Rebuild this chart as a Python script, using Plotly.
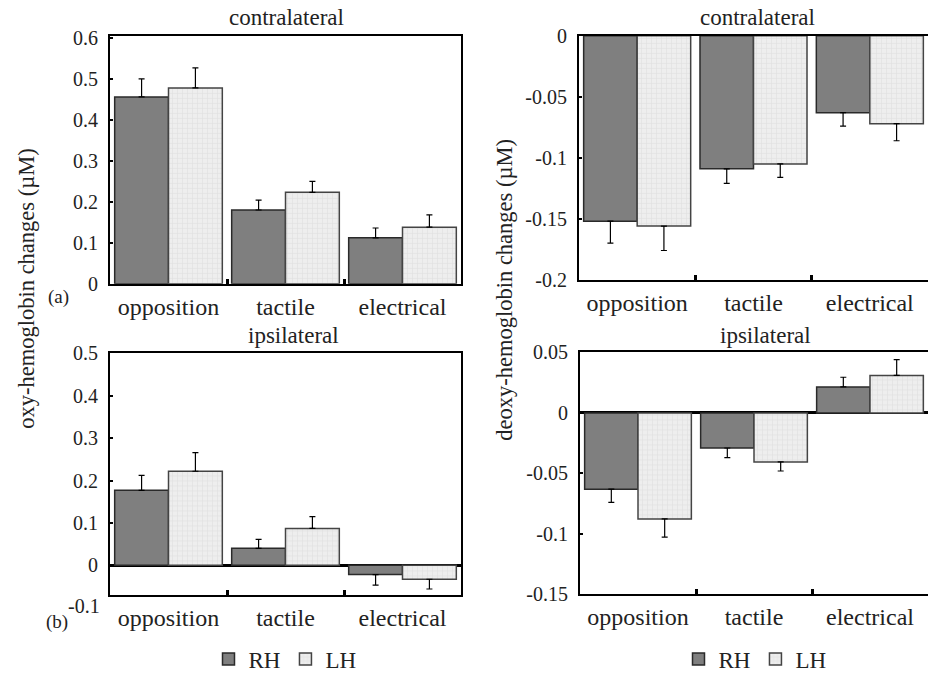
import plotly.graph_objects as go

categories = ["opposition", "tactile", "electrical"]

oxy_contra_RH = [0.456, 0.180, 0.112]
oxy_contra_RH_err = [0.044, 0.024, 0.024]
oxy_contra_LH = [0.478, 0.223, 0.138]
oxy_contra_LH_err = [0.049, 0.027, 0.030]

deoxy_contra_RH = [-0.152, -0.109, -0.063]
deoxy_contra_RH_err = [0.018, 0.012, 0.011]
deoxy_contra_LH = [-0.156, -0.105, -0.072]
deoxy_contra_LH_err = [0.020, 0.011, 0.014]

oxy_ipsi_RH = [0.177, 0.040, -0.022]
oxy_ipsi_RH_err = [0.035, 0.021, 0.025]
oxy_ipsi_LH = [0.222, 0.087, -0.033]
oxy_ipsi_LH_err = [0.044, 0.028, 0.023]

deoxy_ipsi_RH = [-0.063, -0.029, 0.0215]
deoxy_ipsi_RH_err = [0.011, 0.008, 0.008]
deoxy_ipsi_LH = [-0.0876, -0.0405, 0.031]
deoxy_ipsi_LH_err = [0.015, 0.0075, 0.013]

oxy_contra_ticks = [0, 0.1, 0.2, 0.3, 0.4, 0.5, 0.6]
deoxy_contra_ticks = [0, -0.05, -0.1, -0.15, -0.2]
oxy_ipsi_ticks = [0, 0.1, 0.2, 0.3, 0.4, 0.5]
deoxy_ipsi_ticks = [0.05, 0, -0.05, -0.1, -0.15]

FONT = "Liberation Serif, Times New Roman, serif"
RH_COLOR = "#7f7f7f"
LH_COLOR = "#eeeeee"


def errs(vals, err):
    plus = [e if v >= 0 else 0 for v, e in zip(vals, err)]
    minus = [e if v < 0 else 0 for v, e in zip(vals, err)]
    return dict(type="data", symmetric=False, array=plus, arrayminus=minus,
                color="black", thickness=1.2, width=3)


def labels(vals):
    return [f"{v:g}" for v in vals]


fig = go.Figure()

panels = [
    ("x", "y", oxy_contra_RH, oxy_contra_RH_err, oxy_contra_LH, oxy_contra_LH_err, "legend", True),
    ("x2", "y2", deoxy_contra_RH, deoxy_contra_RH_err, deoxy_contra_LH, deoxy_contra_LH_err, "legend2", True),
    ("x3", "y3", oxy_ipsi_RH, oxy_ipsi_RH_err, oxy_ipsi_LH, oxy_ipsi_LH_err, "legend", False),
    ("x4", "y4", deoxy_ipsi_RH, deoxy_ipsi_RH_err, deoxy_ipsi_LH, deoxy_ipsi_LH_err, "legend2", False),
]

for xa, ya, rh, rhe, lh, lhe, leg, show in panels:
    fig.add_trace(go.Bar(
        x=categories, y=rh, name="RH", xaxis=xa, yaxis=ya,
        marker=dict(color=RH_COLOR, line=dict(color="#2a2a2a", width=1.5)),
        error_y=errs(rh, rhe), legend=leg, showlegend=show, offsetgroup="RH"))
    fig.add_trace(go.Bar(
        x=categories, y=lh, name="LH", xaxis=xa, yaxis=ya,
        marker=dict(color=LH_COLOR, line=dict(color="#444444", width=1.5),
                    pattern=dict(shape="+", fgcolor="#d2d2d2", size=5,
                                 solidity=0.25, fillmode="overlay")),
        error_y=errs(lh, lhe), legend=leg, showlegend=show, offsetgroup="LH"))

W, H = 928, 681


def xdom(a, b):
    return [a / W, min(b / W, 1.0)]


def ydom(top, bottom):
    return [(H - bottom) / H, (H - top) / H]


xcommon = dict(type="category", showline=True, linecolor="black", linewidth=2,
               mirror=True, ticks="inside", tickson="boundaries", ticklen=5,
               tickwidth=3, tickcolor="black", showgrid=False, zeroline=False,
               automargin=False,
               tickfont=dict(family=FONT, size=24, color="#222"), fixedrange=True)
ycommon = dict(showline=True, linecolor="black", linewidth=2, ticks="inside",
               ticklen=3, tickwidth=2, tickcolor="black", showgrid=False,
               automargin=False,
               tickfont=dict(family=FONT, size=20, color="#222"),
               ticklabelstandoff=6)

fig.update_layout(
    width=W, height=H,
    margin=dict(l=0, r=0, t=0, b=0, pad=0),
    paper_bgcolor="white", plot_bgcolor="white",
    barmode="group", bargap=0.08, bargroupgap=0,
    font=dict(family=FONT, color="#222"),
    xaxis=dict(xcommon, domain=xdom(110, 461), anchor="y"),
    yaxis=dict(ycommon, domain=ydom(36, 285), anchor="x", range=[0, 0.605],
               tickvals=oxy_contra_ticks, ticktext=labels(oxy_contra_ticks),
               mirror=True, zeroline=False),
    xaxis2=dict(xcommon, domain=xdom(579, 929), anchor="y2"),
    yaxis2=dict(ycommon, domain=ydom(36, 281), anchor="x2", range=[-0.2, 0],
                tickvals=deoxy_contra_ticks, ticktext=labels(deoxy_contra_ticks),
                mirror=False, zeroline=False),
    xaxis3=dict(xcommon, domain=xdom(110, 461), anchor="y3"),
    yaxis3=dict(ycommon, domain=ydom(355, 598), anchor="x3", range=[-0.071, 0.5],
                tickvals=oxy_ipsi_ticks, ticktext=labels(oxy_ipsi_ticks),
                mirror=True, zeroline=True, zerolinecolor="black", zerolinewidth=3),
    xaxis4=dict(xcommon, domain=xdom(580, 929), anchor="y4"),
    yaxis4=dict(ycommon, domain=ydom(354, 597), anchor="x4", range=[-0.15, 0.05],
                tickvals=deoxy_ipsi_ticks, ticktext=labels(deoxy_ipsi_ticks),
                mirror=False, zeroline=True, zerolinecolor="black", zerolinewidth=3),
    legend=dict(orientation="h", x=285 / W, y=(H - 662) / H, xanchor="center",
                yanchor="middle", font=dict(family=FONT, size=23, color="#222"),
                itemwidth=30, tracegroupgap=0, bgcolor="rgba(0,0,0,0)"),
    legend2=dict(orientation="h", x=755 / W, y=(H - 662) / H, xanchor="center",
                 yanchor="middle", font=dict(family=FONT, size=23, color="#222"),
                 itemwidth=30, tracegroupgap=0, bgcolor="rgba(0,0,0,0)"),
)

annotations = [
    dict(text="contralateral", x=286 / W, y=(H - 18) / H, size=23),
    dict(text="contralateral", x=757 / W, y=(H - 18) / H, size=23),
    dict(text="ipsilateral", x=293 / W, y=(H - 337) / H, size=23),
    dict(text="ipsilateral", x=765 / W, y=(H - 337) / H, size=23),
    dict(text="(a)", x=58 / W, y=(H - 298) / H, size=19),
    dict(text="(b)", x=57 / W, y=(H - 625) / H, size=19),
    dict(text="-0.1", x=84 / W, y=(H - 609) / H, size=20),
    dict(text="oxy-hemoglobin changes (\u00b5M)", x=27 / W, y=(H - 290) / H,
         textangle=-90, size=22.5),
    dict(text="deoxy-hemoglobin changes (\u00b5M)", x=505 / W, y=(H - 291) / H,
         textangle=-90, size=22.5),
]
for a in annotations:
    size = a.pop("size")
    fig.add_annotation(xref="paper", yref="paper", showarrow=False,
                       xanchor="center", yanchor="middle",
                       font=dict(family=FONT, size=size, color="#222"), **a)

fig.write_html("out.html", config={"displayModeBar": False},
               post_script="document.body.style.margin='0';document.body.style.padding='0';")
